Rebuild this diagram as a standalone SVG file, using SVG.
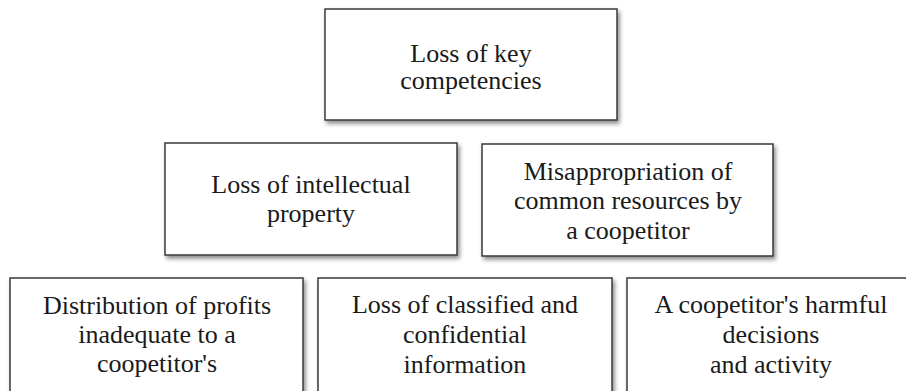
<svg xmlns="http://www.w3.org/2000/svg" width="906" height="391" viewBox="0 0 906 391">
<defs>
<filter id="sh" x="-10%" y="-10%" width="130%" height="140%">
<feDropShadow dx="2" dy="3" stdDeviation="2" flood-color="#000" flood-opacity="0.45"/>
</filter>
</defs>
<style>
.box{fill:#fff;stroke:#3a3a3a;stroke-width:1.5;filter:url(#sh)}
.t{font-family:"Liberation Serif","Times New Roman",serif;font-size:26px;fill:#1a1a1a;text-anchor:middle}
</style>
<rect width="906" height="391" fill="#fff"/>
<g id="n-top">
<rect class="box" x="325" y="9" width="292" height="111"/>
<text class="t" x="471" y="62">Loss of key</text>
<text class="t" x="471" y="89">competencies</text>
</g>
<g id="n-ip">
<rect class="box" x="165" y="143" width="292" height="112"/>
<text class="t" x="311" y="193">Loss of intellectual</text>
<text class="t" x="311" y="222">property</text>
</g>
<g id="n-misapp">
<rect class="box" x="482" y="144" width="291" height="112"/>
<text class="t" x="628" y="180">Misappropriation of</text>
<text class="t" x="628" y="209">common resources by</text>
<text class="t" x="628" y="239">a coopetitor</text>
</g>
<g id="n-dist">
<rect class="box" x="10" y="278" width="293" height="130"/>
<text class="t" x="157" y="314">Distribution of profits</text>
<text class="t" x="157" y="343">inadequate to a</text>
<text class="t" x="157" y="372">coopetitor's</text>
</g>
<g id="n-class">
<rect class="box" x="318" y="278" width="294" height="130"/>
<text class="t" x="465" y="313">Loss of classified and</text>
<text class="t" x="465" y="343">confidential</text>
<text class="t" x="465" y="373">information</text>
</g>
<g id="n-harm">
<rect class="box" x="627" y="278" width="289" height="130"/>
<text class="t" x="771" y="313">A coopetitor's harmful</text>
<text class="t" x="771" y="343">decisions</text>
<text class="t" x="771" y="373">and activity</text>
</g>
<g id="connectors"></g>
</svg>
